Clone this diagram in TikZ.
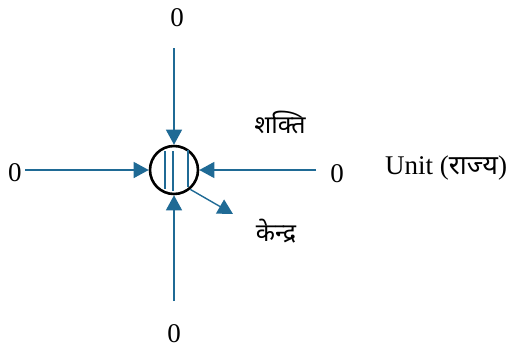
\documentclass[tikz,border=0pt]{standalone}
\usepackage{fontspec}
\setmainfont{Liberation Serif}
\newfontfamily\hindi[Script=Devanagari]{Noto Sans}
\usetikzlibrary{arrows.meta}
\definecolor{arrowblue}{HTML}{1F6A95}

\begin{document}
\begin{tikzpicture}[x=1pt,y=-1pt,>={Triangle[length=15pt,width=16pt]},
  arr/.style={->,draw=arrowblue,line width=1.4pt},
  hatch/.style={draw=arrowblue,line width=1.4pt},
  lbl/.style={font=\fontsize{27}{31}\selectfont,inner sep=0pt},
  hlbl/.style={font=\hindi\fontsize{25}{29}\selectfont,inner sep=0pt}]
  \useasboundingbox (0,0) rectangle (513,349);

  \node[draw,circle,line width=2.6pt,minimum size=48pt,inner sep=0pt]
    (centre) at (174,170) {};

  \coordinate (topend) at (174,48);
  \coordinate (bottomend) at (174,301);
  \coordinate (leftend) at (25,170);
  \coordinate (rightend) at (316,170);
  \coordinate (tipend) at (233,214);

  \draw[arr] (topend) -- (centre);
  \draw[arr] (bottomend) -- (centre);
  \draw[arr] (leftend) -- (centre);
  \draw[arr] (rightend) -- (centre);
  \draw[arr] (centre.-50) -- (tipend);

  % lines inside the circle
  \draw[hatch] ([shift={(-9,-19)}]centre.center) -- ([shift={(-9,19)}]centre.center);
  \draw[hatch] ([shift={(-1,-19)}]centre.center) -- ([shift={(-1,21)}]centre.center);
  \draw[hatch] ([shift={(14,-20)}]centre.center) -- ([shift={(14,17)}]centre.center);

  \node[lbl] (ztop) at (177,18) {0};
  \node[lbl] (zleft) at (15,173) {0};
  \node[lbl] (zright) at (337,174) {0};
  \node[lbl] (zbottom) at (174,334) {0};
  \node[lbl,anchor=west] (unit) at (385,168) {Unit ({\hindi राज्य})};

  \node[hlbl] (shakti) at (280,122) {शक्ति};
  \node[hlbl] (kendra) at (276,231) {केन्द्र};
\end{tikzpicture}
\end{document}
